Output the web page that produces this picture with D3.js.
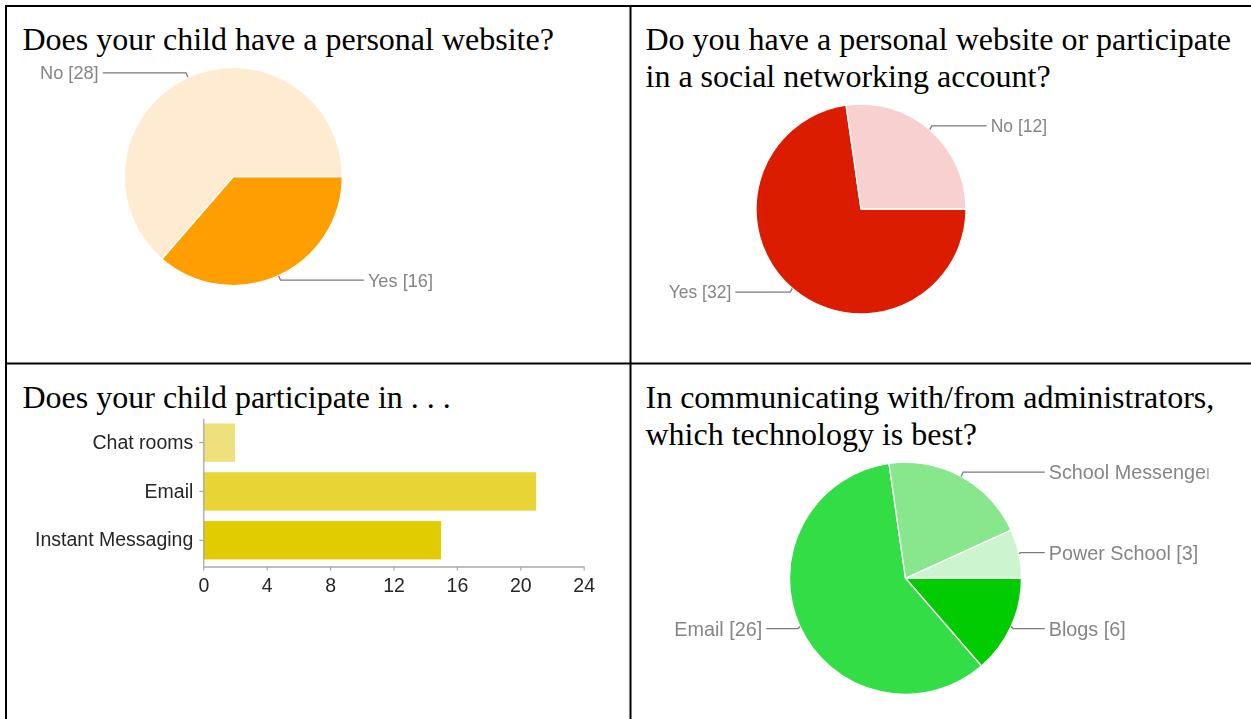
<!DOCTYPE html>
<html>
<head>
<meta charset="utf-8">
<script src="https://cdn.jsdelivr.net/npm/d3@7"></script>
<style>
  html, body { margin: 0; padding: 0; background: #fff; }
  svg { display: block; }
</style>
</head>
<body>
<svg id="chart" width="1251" height="719"></svg>
<script>
// ---- survey answers ----
const websiteChildLabels = ["Yes", "No"];
const websiteChildValues = [16, 28];

const websiteParentLabels = ["Yes", "No"];
const websiteParentValues = [32, 12];

const participateCategories = ["Chat rooms", "Email", "Instant Messaging"];
const participateValues = [2, 21, 15];
const participateTicks = [0, 4, 8, 12, 16, 20, 24];

const adminTechLabels = ["Blogs", "Email", "School Messenger", "Power School"];
const adminTechValues = [6, 26, 9, 3];

// ---- colours ----
const websiteChildColors = ["#FF9E01", "#FEEBD2"];
const websiteParentColors = ["#DC1F00", "#F9D0D0"];
const participateColors = ["#EEE07A", "#E8D534", "#E0CC00"];
const adminTechColors = ["#00CC00", "#33DD44", "#88E68C", "#CCF5CF"];

const svg = d3.select("#chart");
const W = 1251, H = 719;

const defs = svg.append("defs");
defs.append("filter").attr("id", "soft")
  .attr("x", "-5%").attr("y", "-5%").attr("width", "110%").attr("height", "110%")
  .append("feGaussianBlur").attr("stdDeviation", 0.35);
// the last chart's image ends before the cell edge, cutting its widest label
defs.append("clipPath").attr("id", "cell4clip")
  .append("rect").attr("x", 632).attr("y", 365).attr("width", 576.5).attr("height", 354);

// ---- table grid ----
const grid = svg.append("g").attr("stroke", "#000").attr("stroke-width", 2);
grid.append("line").attr("x1", 5).attr("x2", W).attr("y1", 6).attr("y2", 6);
grid.append("line").attr("x1", 5).attr("x2", W).attr("y1", 363.5).attr("y2", 363.5);
grid.append("line").attr("x1", 6).attr("x2", 6).attr("y1", 5).attr("y2", H);
grid.append("line").attr("x1", 630.5).attr("x2", 630.5).attr("y1", 5).attr("y2", H);

// ---- question titles ----
function title(lines, x, y) {
  const t = svg.append("text")
    .attr("font-family", "'Liberation Serif', 'Times New Roman', Times, serif")
    .attr("font-size", 32).attr("fill", "#000");
  lines.forEach((s, i) => t.append("tspan").attr("x", x).attr("y", y + i * 37.5).text(s));
}
title(["Does your child have a personal website?"], 22.5, 49.5);
title(["Do you have a personal website or participate", "in a social networking account?"], 645.5, 49.5);
title(["Does your child participate in . . ."], 22.5, 407.5);
title(["In communicating with/from administrators,", "which technology is best?"], 645.5, 407.5);

// ---- pie with leader-line labels ----
function drawPie(parent, labels, values, colors, o) {
  const g = parent.append("g").attr("filter", "url(#soft)");
  const arcs = d3.pie().sort(null)
    .startAngle(Math.PI / 2).endAngle(Math.PI / 2 + 2 * Math.PI)(values);
  const arc = d3.arc().innerRadius(0).outerRadius(o.r);

  g.append("g").attr("transform", `translate(${o.cx},${o.cy})`)
    .selectAll("path").data(arcs).join("path")
    .attr("d", arc)
    .attr("fill", (d, i) => colors[i])
    .attr("stroke", "#fff").attr("stroke-width", 1.3).attr("stroke-linejoin", "round");

  const gap = o.r * 0.235;
  arcs.forEach((d, i) => {
    const mid = (d.startAngle + d.endAngle) / 2;
    const rx = o.cx + o.r * Math.sin(mid);
    const ry = o.cy - o.r * Math.cos(mid);
    const ly = o.cy - (o.r + 5) * Math.cos(mid);
    const right = Math.sin(mid) >= 0;
    const tx = right ? o.cx + o.r + gap : o.cx - o.r - gap;
    const bx = right ? rx + 2 : rx - 2;
    const ex = right ? tx - 4 : tx + 4;
    g.append("path")
      .attr("d", `M${rx},${ry}L${bx},${ly}L${ex},${ly}`)
      .attr("fill", "none").attr("stroke", "#7a7a7a").attr("stroke-width", 1.3);
    g.append("text")
      .attr("x", tx).attr("y", ly).attr("dy", "0.36em")
      .attr("text-anchor", right ? "start" : "end")
      .attr("font-family", "'Liberation Sans', Arial, Helvetica, sans-serif")
      .attr("font-size", o.fs).attr("fill", "#858585")
      .text(`${labels[i]} [${values[i]}]`);
  });
}

drawPie(svg, websiteChildLabels, websiteChildValues, websiteChildColors,
  { cx: 233.3, cy: 176.5, r: 109, fs: 18.2 });
drawPie(svg, websiteParentLabels, websiteParentValues, websiteParentColors,
  { cx: 861, cy: 209, r: 105, fs: 17.5 });
drawPie(svg.append("g").attr("clip-path", "url(#cell4clip)"),
  adminTechLabels, adminTechValues, adminTechColors,
  { cx: 905.5, cy: 578.3, r: 116, fs: 19.8 });

// ---- horizontal bar chart ----
const bar = svg.append("g").attr("filter", "url(#soft)");
const x = d3.scaleLinear().domain([0, 24]).range([203.3, 583.7]);
const y = d3.scaleBand().domain(participateCategories).range([418.3, 566.5])
  .paddingInner(0.214).paddingOuter(0.125).align(0.42);

bar.selectAll("rect").data(participateCategories).join("rect")
  .attr("x", x(0))
  .attr("y", d => y(d))
  .attr("width", (d, i) => x(participateValues[i]) - x(0))
  .attr("height", y.bandwidth())
  .attr("fill", (d, i) => participateColors[i]);

const axisFont = "'Liberation Sans', Arial, Helvetica, sans-serif";

const xAxis = bar.append("g").attr("transform", `translate(0,${566.5})`)
  .call(d3.axisBottom(x).tickValues(participateTicks).tickSize(4)
    .tickSizeOuter(0).tickPadding(7.5).tickFormat(d3.format("d")));
const yAxis = bar.append("g").attr("transform", `translate(${x(0)},0)`)
  .call(d3.axisLeft(y).tickSize(4).tickSizeOuter(0).tickPadding(6));

[xAxis, yAxis].forEach(a => {
  a.select(".domain").attr("stroke", "#a8a8a8").attr("stroke-width", 1.3);
  a.selectAll(".tick line").attr("stroke", "#a8a8a8").attr("stroke-width", 1.2);
  a.selectAll(".tick text").attr("font-family", axisFont)
    .attr("font-size", 19.5).attr("fill", "#262626");
});
</script>
</body>
</html>
